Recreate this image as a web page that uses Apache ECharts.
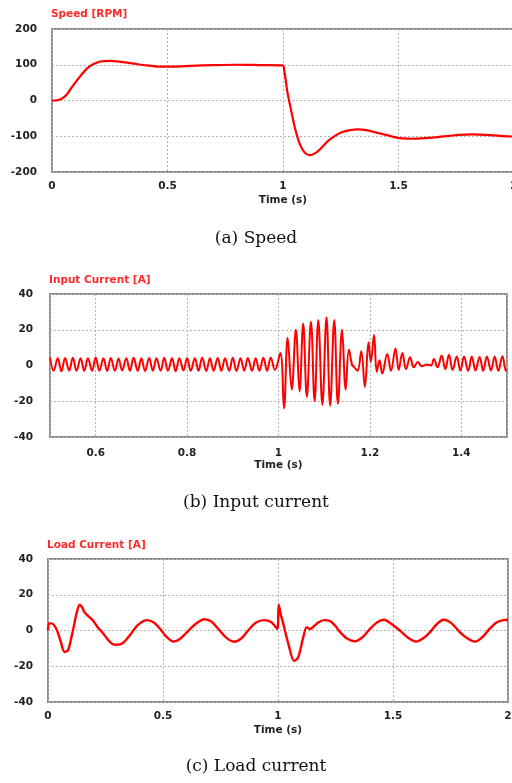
<!DOCTYPE html>
<html>
<head>
<meta charset="utf-8">
<script src="https://cdn.jsdelivr.net/npm/echarts@6/dist/echarts.min.js"></script>
<style>
html, body { margin: 0; padding: 0; background: #fff; }
#main { width: 512px; height: 783px; }
</style>
</head>
<body>
<div id="main"></div>
<script>
var myChart = echarts.init(document.getElementById("main"));

// (a) speed [t, rpm]
var speedData = [
  [0,0],[0.02,0.5],[0.04,4],[0.06,14],[0.087,38],[0.12,66],[0.152,90],[0.18,102],
  [0.21,109],[0.25,111],[0.3,108],[0.355,103],[0.41,98],[0.46,95],[0.53,95],[0.6,97],
  [0.7,99],[0.8,100],[0.9,99],[0.998,98],[1.006,81],[1.02,20],[1.035,-27],[1.049,-70],
  [1.07,-117],[1.093,-145],[1.116,-153],[1.145,-145],[1.17,-130],[1.195,-113],[1.225,-99],
  [1.254,-89],[1.29,-83],[1.326,-81],[1.36,-83],[1.4,-89],[1.45,-97],[1.487,-103],
  [1.52,-106],[1.559,-107],[1.6,-106],[1.66,-103],[1.72,-99],[1.76,-96],[1.82,-95],
  [1.877,-96],[1.94,-99],[2.0,-101]
];

// (b) input current [t, A]
var inputCurrentData = [
  [0.500,4.5],[0.508,-3],[0.517,4],[0.525,-3.2],[0.533,4.2],[0.542,-2.8],[0.550,4.3],[0.558,-3],
  [0.567,4],[0.575,-3],[0.583,4.1],[0.592,-2.9],[0.600,4.5],[0.608,-3],[0.617,4],[0.625,-3.1],
  [0.633,4.2],[0.642,-3],[0.650,3.9],[0.658,-2.8],[0.667,4.1],[0.675,-3],[0.683,4.3],[0.692,-3],
  [0.700,4],[0.708,-3.1],[0.717,4.2],[0.725,-2.9],[0.733,4],[0.742,-3],[0.750,4.3],[0.758,-3],
  [0.767,4],[0.775,-3.2],[0.783,4.1],[0.792,-2.8],[0.800,4.2],[0.808,-3],[0.817,4],[0.825,-3],
  [0.833,4.3],[0.842,-3.1],[0.850,4],[0.858,-2.9],[0.867,4.2],[0.875,-3],[0.883,4],[0.892,-3],
  [0.900,4.4],[0.908,-3.1],[0.917,4],[0.925,-2.9],[0.933,4.2],[0.942,-3],[0.950,4.1],[0.958,-3],
  [0.967,4.3],[0.975,-3],[0.983,4.5],[0.992,-2.5],
  [1.004,7],[1.012,-24],[1.020,15.5],[1.029,-13.5],[1.038,20],[1.046,-14.5],[1.054,23.5],
  [1.062,-17.5],[1.071,24.5],[1.079,-20],[1.087,25.5],[1.096,-22],[1.105,27],[1.113,-22.5],
  [1.122,25.5],[1.130,-21.5],[1.139,20],[1.147,-13.5],[1.154,9],[1.161,0.5],[1.166,-1],
  [1.173,-3],[1.181,8],[1.189,-12],[1.197,13],[1.202,2],[1.209,17],[1.215,-3.5],[1.221,3],
  [1.227,-4.5],[1.238,6.5],[1.246,-3],[1.256,9.5],[1.263,-2.5],[1.271,7],[1.279,-2],
  [1.288,4.6],[1.296,-1],[1.305,1.9],[1.314,-0.4],[1.325,0.6],[1.334,0],[1.340,3.7],
  [1.348,-1],[1.357,5.6],[1.365,-2],[1.373,6],[1.381,-2.5],[1.390,5],[1.398,-2.8],
  [1.406,5],[1.415,-3],[1.423,5],[1.431,-2.8],[1.440,4.8],[1.448,-3],[1.456,5],[1.465,-2.8],
  [1.473,5],[1.481,-3],[1.490,5.2],[1.498,-3],[1.5,-2.5]
];

// (c) load current [t, A]
var loadCurrentData = [
  [0,0],[0.004,4],[0.015,4],[0.036,1],[0.055,-6],[0.072,-12],[0.087,-11],[0.105,-2],
  [0.125,10],[0.138,14.4],[0.148,13],[0.16,10],[0.18,7.5],[0.196,5.6],[0.215,2],[0.239,-1.5],
  [0.26,-5],[0.283,-7.8],[0.3,-8],[0.326,-7],[0.36,-2],[0.39,3],[0.43,5.8],[0.46,4.5],
  [0.49,0.5],[0.515,-3.5],[0.545,-6.2],[0.57,-5],[0.6,-1.5],[0.64,3.5],[0.68,6.3],[0.71,5],
  [0.74,1],[0.775,-4],[0.81,-6.3],[0.84,-4.5],[0.87,0],[0.905,4.5],[0.94,5.8],[0.97,4.8],
  [0.997,1],[1.003,14.5],[1.012,9],[1.023,3.7],[1.045,-7.5],[1.07,-17],[1.088,-15],
  [1.11,-3.7],[1.125,1.9],[1.139,0.8],[1.153,2],[1.175,4.5],[1.2,5.8],[1.225,5.4],
  [1.25,2.5],[1.27,-0.9],[1.3,-4.5],[1.335,-6],[1.37,-3.5],[1.4,0.9],[1.43,4.5],[1.46,6],
  [1.495,3.5],[1.53,0],[1.565,-4],[1.6,-6.2],[1.635,-4],[1.661,-0.9],[1.69,3.5],[1.72,6],
  [1.755,4],[1.79,-0.9],[1.825,-4.5],[1.857,-6.2],[1.89,-3.5],[1.92,0.9],[1.95,4.5],
  [1.98,5.8],[2.0,6]
];

var plotTitles = ['Speed [RPM]', 'Input Current [A]', 'Load Current [A]'];
var captions = ['(a) Speed', '(b) Input current', '(c) Load current'];

var labelFont = { color: '#222', fontWeight: 'bold', fontSize: 10.5, fontFamily: 'DejaVu Sans' };
var splitLine = { show: true, lineStyle: { color: '#b4b4b4', type: [2, 2], width: 1 } };

function xAxisFor(idx, min, max, extra, labelMargin) {
  var ax = {
    type: 'value', gridIndex: idx, min: min, max: max,
    name: 'Time (s)', nameLocation: 'middle', nameGap: 23,
    nameTextStyle: labelFont,
    axisLine: { show: false }, axisTick: { show: false },
    axisLabel: Object.assign({ margin: labelMargin }, labelFont),
    splitLine: splitLine
  };
  return Object.assign(ax, extra);
}

function yAxisFor(idx, lim, step, margin) {
  return {
    type: 'value', gridIndex: idx, min: -lim, max: lim, interval: step,
    axisLine: { show: false }, axisTick: { show: false },
    axisLabel: Object.assign({ margin: margin }, labelFont),
    splitLine: splitLine
  };
}

var gridStyle = { show: true, borderColor: '#8e8e8e', borderWidth: 2, backgroundColor: '#fff',
  outerBoundsMode: 'none', containLabel: false };
var titleFont = { color: '#ff2a2a', fontSize: 10.5, fontWeight: 'bold', fontFamily: 'DejaVu Sans' };
var captionFont = { color: '#111', fontSize: 17, fontWeight: 'normal', fontFamily: 'DejaVu Serif' };

option = {
  animation: false,
  backgroundColor: '#fff',
  title: [
    { text: plotTitles[0], left: 51, top: 9, padding: 0, textStyle: titleFont },
    { text: plotTitles[1], left: 49, top: 275, padding: 0, textStyle: titleFont },
    { text: plotTitles[2], left: 47, top: 540, padding: 0, textStyle: titleFont },
    { text: captions[0], left: 'center', top: 230, padding: 0, textStyle: captionFont },
    { text: captions[1], left: 'center', top: 494, padding: 0, textStyle: captionFont },
    { text: captions[2], left: 'center', top: 758, padding: 0, textStyle: captionFont }
  ],
  grid: [
    Object.assign({ left: 52, top: 29, width: 462, height: 143 }, gridStyle),
    Object.assign({ left: 50, top: 294, width: 457, height: 143 }, gridStyle),
    Object.assign({ left: 48, top: 559, width: 460, height: 143 }, gridStyle)
  ],
  xAxis: [
    xAxisFor(0, 0, 2, { interval: 0.5 }, 9),
    xAxisFor(1, 0.5, 1.5, { splitNumber: 5, axisLabel: Object.assign({ margin: 11, showMinLabel: false, showMaxLabel: false }, labelFont) }, 11),
    xAxisFor(2, 0, 2, { interval: 0.5 }, 9)
  ],
  yAxis: [
    yAxisFor(0, 200, 100, 15),
    yAxisFor(1, 40, 20, 17),
    yAxisFor(2, 40, 20, 15)
  ],
  series: [
    { type: 'line', xAxisIndex: 0, yAxisIndex: 0, data: speedData, showSymbol: false, smooth: 0.3,
      lineStyle: { color: '#ff0000', width: 2.2 } },
    { type: 'line', xAxisIndex: 1, yAxisIndex: 1, data: inputCurrentData, showSymbol: false, smooth: 0.4,
      lineStyle: { color: '#ff0000', width: 2 } },
    { type: 'line', xAxisIndex: 2, yAxisIndex: 2, data: loadCurrentData, showSymbol: false, smooth: 0.3,
      lineStyle: { color: '#ff0000', width: 2.4 } }
  ]
};

myChart.setOption(option);
</script>
</body>
</html>
